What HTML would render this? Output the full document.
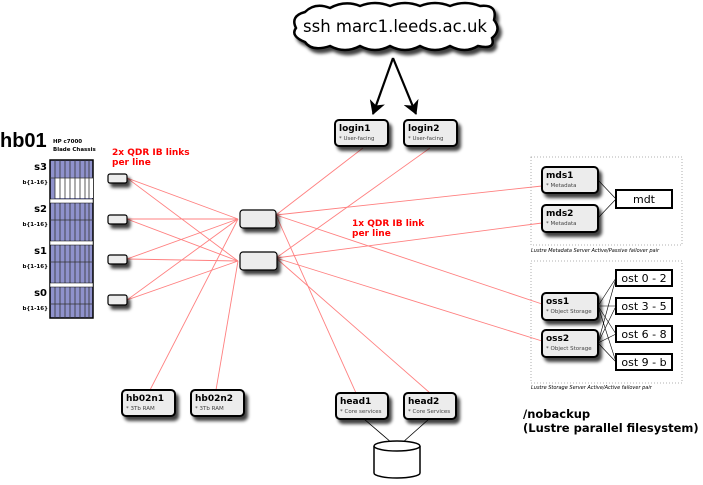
<!DOCTYPE html>
<html><head><meta charset="utf-8"><style>
body{margin:0;background:#fff;}
svg text{font-family:"DejaVu Sans","Liberation Sans",sans-serif;}
</style></head><body>
<svg width="703" height="480" xmlns="http://www.w3.org/2000/svg">
<defs>
<filter id="sh" x="-20%" y="-20%" width="150%" height="160%"><feDropShadow dx="3" dy="4" stdDeviation="1.5" flood-color="#000" flood-opacity="0.75"/></filter>
<marker id="ar" markerWidth="14" markerHeight="16" refX="13" refY="8" orient="auto" markerUnits="userSpaceOnUse"><path d="M0,0 L14,8 L0,16 L4,8 Z" fill="#000"/></marker>
</defs>
<!-- red lines -->
<g stroke="#ff8080" stroke-width="0.9" fill="none">
<line x1="127" y1="178" x2="238" y2="219"/><line x1="127" y1="178" x2="238" y2="261"/>
<line x1="127" y1="219" x2="238" y2="219"/><line x1="127" y1="219" x2="238" y2="261"/>
<line x1="127" y1="259" x2="238" y2="219"/><line x1="127" y1="259" x2="238" y2="261"/>
<line x1="127" y1="300" x2="238" y2="219"/><line x1="127" y1="300" x2="238" y2="261"/>
<line x1="150" y1="390" x2="238" y2="219"/><line x1="216" y1="390" x2="238" y2="261"/>
<line x1="276" y1="215" x2="363" y2="148"/><line x1="276" y1="215" x2="542" y2="186"/>
<line x1="276" y1="215" x2="542" y2="304"/><line x1="276" y1="215" x2="356" y2="393"/>
<line x1="276" y1="258" x2="430" y2="148"/><line x1="276" y1="258" x2="542" y2="223"/>
<line x1="276" y1="258" x2="542" y2="341"/><line x1="276" y1="258" x2="430" y2="393"/>
</g>
<!-- cloud -->
<path d="M305,12 Q315,2 330,8 Q345,0 360,6 Q375,0 390,6 Q405,0 420,6 Q435,0 450,6 Q465,0 480,6 Q498,4 494,20 Q502,30 492,38 Q496,50 478,46 Q465,54 450,46 Q435,54 420,46 Q405,54 390,46 Q375,54 360,46 Q345,54 330,46 Q312,52 305,42 Q290,36 296,28 Q290,16 305,12 Z" fill="#fff" stroke="#000" stroke-width="2.5" filter="url(#sh)"/>
<text x="395" y="32" font-size="16.5" text-anchor="middle">ssh marc1.leeds.ac.uk</text>
<line x1="393" y1="58" x2="373" y2="114" stroke="#000" stroke-width="2.2" marker-end="url(#ar)"/>
<line x1="393" y1="58" x2="416" y2="114" stroke="#000" stroke-width="2.2" marker-end="url(#ar)"/>
<!-- chassis -->
<text x="0" y="147" font-size="20" font-weight="bold" style="font-family:'Liberation Sans',sans-serif">hb01</text>
<text x="53" y="143" font-size="5.5" font-weight="bold">HP c7000</text>
<text x="53" y="151" font-size="5.5" font-weight="bold">Blade Chassis</text>
<rect x="50" y="160" width="43" height="158" fill="#8f92cc" stroke="#000" stroke-width="1.5"/>
<rect x="55" y="178" width="38" height="20" fill="#fff"/>
<g stroke="#333" stroke-width="0.8">
<line x1="55" y1="160" x2="55" y2="318"/><line x1="60" y1="160" x2="60" y2="318"/><line x1="65" y1="160" x2="65" y2="318"/><line x1="70" y1="160" x2="70" y2="318"/><line x1="75" y1="160" x2="75" y2="318"/><line x1="80" y1="160" x2="80" y2="318"/><line x1="85" y1="160" x2="85" y2="318"/><line x1="89" y1="160" x2="89" y2="318"/>
<line x1="50" y1="178" x2="93" y2="178"/><line x1="50" y1="220" x2="93" y2="220"/><line x1="50" y1="262" x2="93" y2="262"/><line x1="50" y1="304" x2="93" y2="304"/>
</g>
<g fill="#fff" stroke="#000" stroke-width="0.5"><rect x="50" y="199" width="43" height="4"/><rect x="50" y="241" width="43" height="4"/><rect x="50" y="283" width="43" height="4"/></g>
<g font-size="10" font-weight="bold" text-anchor="end"><text x="47" y="170">s3</text><text x="47" y="212">s2</text><text x="47" y="254">s1</text><text x="47" y="296">s0</text></g>
<g font-size="5.5" font-weight="bold" text-anchor="end"><text x="48" y="184">b{1-16}</text><text x="48" y="226">b{1-16}</text><text x="48" y="268">b{1-16}</text><text x="48" y="310">b{1-16}</text></g>
<text x="112" y="155" font-size="9" font-weight="bold" fill="#f00">2x QDR IB links</text>
<text x="112" y="165" font-size="9" font-weight="bold" fill="#f00">per line</text>
<text x="352" y="226" font-size="9" font-weight="bold" fill="#f00">1x QDR IB link</text>
<text x="352" y="236" font-size="9" font-weight="bold" fill="#f00">per line</text>
<!-- switches -->
<g fill="#ececec" stroke="#000" stroke-width="1.2" filter="url(#sh)">
<rect x="108" y="174" width="19" height="9" rx="2"/><rect x="108" y="215" width="19" height="9" rx="2"/>
<rect x="108" y="255" width="19" height="9" rx="2"/><rect x="108" y="295" width="19" height="10" rx="2"/>
<rect x="240" y="210" width="36" height="18" rx="3"/><rect x="240" y="252" width="37" height="18" rx="3"/>
</g>
<!-- nodes -->
<g fill="#ececec" stroke="#000" stroke-width="2" filter="url(#sh)">
<rect x="335" y="120" width="53" height="26" rx="4"/><rect x="404" y="120" width="53" height="26" rx="4"/>
<rect x="542" y="167" width="56" height="26" rx="4"/><rect x="542" y="205" width="56" height="27" rx="4"/>
<rect x="542" y="293" width="56" height="27" rx="4"/><rect x="542" y="330" width="56" height="27" rx="4"/>
<rect x="336" y="393" width="52" height="26" rx="4"/><rect x="404" y="393" width="52" height="26" rx="4"/>
<rect x="122" y="390" width="53" height="26" rx="4"/><rect x="191" y="390" width="53" height="26" rx="4"/>
</g>
<g font-size="9" font-weight="bold">
<text x="339" y="131">login1</text><text x="408" y="131">login2</text>
<text x="546" y="178">mds1</text><text x="546" y="216">mds2</text>
<text x="546" y="304">oss1</text><text x="546" y="341">oss2</text>
<text x="340" y="404">head1</text><text x="408" y="404">head2</text>
<text x="126" y="401">hb02n1</text><text x="195" y="401">hb02n2</text>
</g>
<g font-size="5.5" fill="#444">
<text x="339" y="140">* User-facing</text><text x="408" y="140">* User-facing</text>
<text x="546" y="187">* Metadata</text><text x="546" y="225">* Metadata</text>
<text x="546" y="313">* Object Storage</text><text x="546" y="350">* Object Storage</text>
<text x="340" y="413">* Core services</text><text x="408" y="413">* Core Services</text>
<text x="126" y="410">* 3Tb RAM</text><text x="195" y="410">* 3Tb RAM</text>
</g>
<!-- lustre boxes -->
<g fill="none" stroke="#999" stroke-width="0.8" stroke-dasharray="1,2">
<rect x="531" y="157" width="151" height="88"/><rect x="531" y="261" width="151" height="122"/>
</g>
<text x="531" y="252" font-size="5" font-style="italic">Lustre Metadata Server Active/Passive  failover pair</text>
<text x="531" y="389" font-size="5" font-style="italic">Lustre Storage Server Active/Active  failover pair</text>
<g stroke="#000" stroke-width="0.6">
<line x1="598" y1="180" x2="616" y2="199"/><line x1="598" y1="218" x2="616" y2="199"/>
<line x1="598" y1="306" x2="616" y2="278"/><line x1="598" y1="306" x2="616" y2="306"/><line x1="598" y1="306" x2="616" y2="334"/><line x1="598" y1="306" x2="616" y2="362"/>
<line x1="598" y1="343" x2="616" y2="278"/><line x1="598" y1="343" x2="616" y2="306"/><line x1="598" y1="343" x2="616" y2="334"/><line x1="598" y1="343" x2="616" y2="362"/>
</g>
<g fill="#fff" stroke="#000" stroke-width="2">
<rect x="616" y="190" width="56" height="18"/>
<rect x="616" y="270" width="56" height="16"/><rect x="616" y="298" width="56" height="16"/>
<rect x="616" y="326" width="56" height="16"/><rect x="616" y="354" width="56" height="16"/>
</g>
<g font-size="11" text-anchor="middle">
<text x="644" y="203">mdt</text><text x="644" y="282">ost 0 - 2</text><text x="644" y="310">ost 3 - 5</text><text x="644" y="338">ost 6 - 8</text><text x="644" y="366">ost 9 - b</text>
</g>
<text x="523" y="418" font-size="11.5" font-weight="bold">/nobackup</text>
<text x="523" y="432" font-size="11.5" font-weight="bold">(Lustre parallel filesystem)</text>
<!-- storage -->
<g stroke="#000" stroke-width="0.8"><line x1="364" y1="419" x2="392" y2="443"/><line x1="429" y1="419" x2="402" y2="443"/></g>
<path d="M374,446 L374,473 A23,5 0 0 0 420,473 L420,446" fill="#fff" stroke="#000" stroke-width="1.5"/>
<ellipse cx="397" cy="446" rx="23" ry="5" fill="#fff" stroke="#000" stroke-width="1.5"/>
</svg>
</body></html>
